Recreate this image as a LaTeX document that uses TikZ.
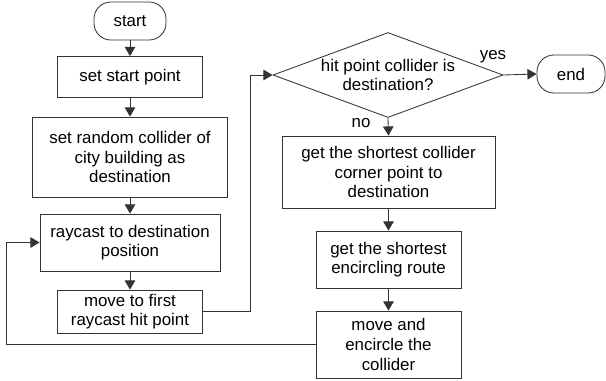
\documentclass[tikz,border=0pt]{standalone}
\usepackage{fontspec}
\setmainfont{Liberation Sans}
\usetikzlibrary{shapes.geometric,arrows.meta}

\tikzset{
    box/.style={draw=black!80,line width=0.6pt,fill=white,align=center,inner sep=1pt},
    terminal/.style={box,rounded corners=12pt},
    decision/.style={draw=black!80,line width=0.6pt,diamond,inner sep=0pt,
        minimum width=5.75cm,minimum height=2.125cm},
    arr/.style={draw=black!80,line width=0.6pt,-{Triangle[length=6.5pt,width=7.5pt]}},
    line/.style={draw=black!80,line width=0.6pt}
}

\begin{document}
\begin{tikzpicture}[x=0.025cm,y=-0.025cm,font=\fontsize{12}{14}\selectfont]
    \useasboundingbox (0,0) rectangle (606,381);
    % left column
    \node[terminal,minimum width=1.8cm,minimum height=0.95cm] (start) at (130,21) {start};
    \node[box,minimum width=3.625cm,minimum height=1.025cm] (setpt) at (130,77) {set start point};
    \node[box,minimum width=4.875cm,minimum height=2cm] (rand) at (130,157)
        {set random collider of\\city building as\\destination};
    \node[box,minimum width=4.5cm,minimum height=1.425cm] (ray) at (130,242.5)
        {raycast to destination\\position};
    \node[box,minimum width=3.625cm,minimum height=1.075cm] (move) at (130,311.5)
        {move to first\\raycast hit point};
    % right column
    \node[decision,label={[align=center]center:hit point collider is\\destination?}] (hit) at (388,75) {};
    \node[terminal,minimum width=1.7cm,minimum height=0.95cm] (finish) at (571,74) {end};
    \node[box,minimum width=5.325cm,minimum height=1.8cm] (corner) at (388.5,172)
        {get the shortest collider\\corner point to\\destination};
    \node[box,minimum width=3.625cm,minimum height=1.425cm] (route) at (388.5,259.5)
        {get the shortest\\encircling route};
    \node[box,minimum width=3.625cm,minimum height=1.675cm] (circ) at (388.5,344.5)
        {move and\\encircle the\\collider};
    % branch labels
    \node (yes) at (493,57) {yes};
    \node (no) at (361,123) {no};
    % connectors
    \coordinate (rx) at (250,0);
    \coordinate (lx) at (6,0);
    \draw[arr] (start) -- (setpt);
    \draw[arr] (setpt) -- (rand);
    \draw[arr] (rand) -- (ray);
    \draw[arr] (ray) -- (move);
    \draw[arr] (move.east) -- (move.east -| rx) -- (hit.west -| rx) -- (hit.west);
    \draw[arr] (hit.east) -- (finish.west);
    \draw[arr] (hit.south) -- (corner.north);
    \draw[arr] (corner) -- (route);
    \draw[arr] (route) -- (circ);
    % back to raycast
    \draw[arr] (circ.west) -- (circ.west -| lx) -- (ray.west -| lx) -- (ray.west);
\end{tikzpicture}
\end{document}
